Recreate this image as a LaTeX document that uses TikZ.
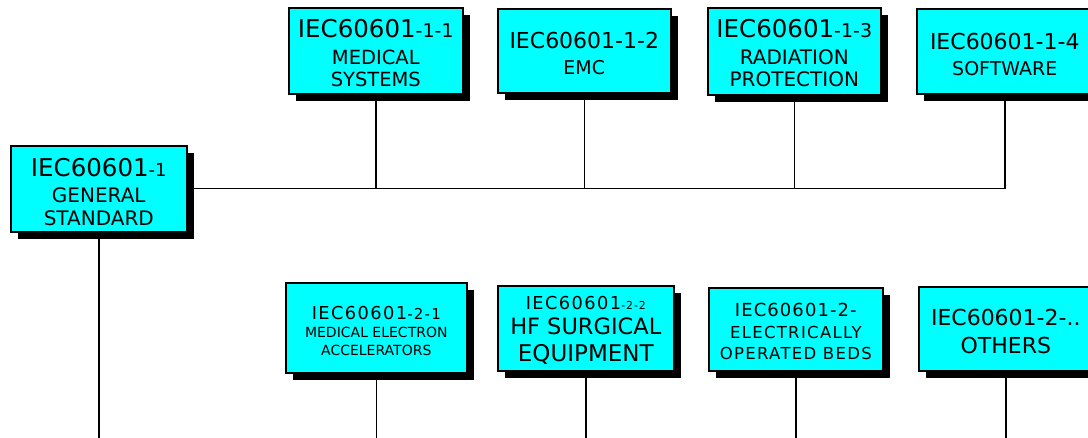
\documentclass[tikz,border=0pt]{standalone}
\usepackage{fontspec}
\setmainfont{DejaVu Sans}
\usetikzlibrary{shadows}

\definecolor{boxcyan}{RGB}{0,255,255}
\newcommand{\fsz}[1]{\fontsize{#1}{#1}\selectfont}
\newcommand{\spaced}[1]{\addfontfeature{LetterSpace=#1}}
\newcommand{\topstrut}[1]{\rule{0pt}{#1pt}}

\begin{document}
\begin{tikzpicture}[
        x=1pt, y=-1pt,
        stdbox/.style={
            draw,
            line width=1.6pt,
            fill=boxcyan,
            anchor=north west,
            align=center,
            inner sep=0pt,
            drop shadow={shadow xshift=7.5pt, shadow yshift=-7.5pt, fill=black, opacity=1}
        },
        link/.style={
            line width=1.4pt
        }
    ]

        \useasboundingbox (0,0) rectangle (1088,438);
        \coordinate (floor) at (0,440);

        % ---------------------------------------------------------------------
        % General standard
        % ---------------------------------------------------------------------

        \node[
            stdbox,
            minimum width=176pt, minimum height=86pt,
            font=\fontsize{20}{23}\selectfont
        ] (gen) at (10,145) {
            {\topstrut{24}\fsz{24.5}IEC60601\fsz{18}-1}\\[3pt]
            {\fsz{20}GENERAL}\\
            {\fsz{20}STANDARD}
        };

        % ---------------------------------------------------------------------
        % Collateral standards (1-x)
        % ---------------------------------------------------------------------

        \node[
            stdbox,
            minimum width=174pt, minimum height=86pt,
            font=\fontsize{19.5}{22}\selectfont
        ] (b11) at (288,7) {
            {\topstrut{22}\fsz{24.5}IEC60601\fsz{19}-1-1}\\[5pt]
            {\fsz{19.5}MEDICAL}\\
            {\fsz{19.5}SYSTEMS}
        };

        \node[
            stdbox,
            minimum width=173pt, minimum height=84pt,
            font=\fontsize{19}{26}\selectfont
        ] (b12) at (497,8) {
            {\topstrut{22}\fsz{22}IEC60601-1-2}\\
            {\fsz{19}EMC}
        };

        \node[
            stdbox,
            minimum width=173pt, minimum height=87pt,
            font=\fontsize{20}{22}\selectfont
        ] (b13) at (707,7) {
            {\topstrut{22}\fsz{24.5}IEC60601\fsz{19}-1-3}\\[5pt]
            {\fsz{20}RADIATION}\\
            {\fsz{20}PROTECTION}
        };

        \node[
            stdbox,
            minimum width=176pt, minimum height=85pt,
            font=\fontsize{19}{26}\selectfont
        ] (b14) at (916,8) {
            {\topstrut{22}\fsz{22}IEC60601-1-4}\\
            {\fsz{19}SOFTWARE}
        };

        % ---------------------------------------------------------------------
        % Particular standards (2-x)
        % ---------------------------------------------------------------------

        \node[
            stdbox,
            minimum width=181pt, minimum height=90pt,
            font=\fontsize{14}{18}\selectfont
        ] (b21) at (285,282) {
            {\topstrut{19}\fsz{17.8}\spaced{8}IEC60601\fsz{15}-2-1}\\
            {\fsz{14}MEDICAL ELECTRON}\\
            {\fsz{14}ACCELERATORS}
        };

        \node[
            stdbox,
            minimum width=176pt, minimum height=85pt,
            font=\fontsize{23}{27}\selectfont
        ] (b22) at (497,285) {
            {\topstrut{17}\fsz{17.8}\spaced{8}IEC60601\fsz{11}-2-2}\\[-2pt]
            {\fsz{22.5}HF SURGICAL}\\
            {\fsz{23}EQUIPMENT}
        };

        \node[
            stdbox,
            minimum width=174pt, minimum height=83pt,
            font=\fontsize{16.5}{21}\selectfont
        ] (b23) at (708,287) {
            {\topstrut{18}\fsz{18}\spaced{6}IEC60601-2-}\\[1pt]
            {\fsz{16.5}\spaced{8}ELECTRICALLY}\\
            {\fsz{16.5}\spaced{8}OPERATED BEDS}
        };

        \node[
            stdbox,
            minimum width=174pt, minimum height=84pt,
            font=\fontsize{22}{28}\selectfont
        ] (b24) at (918,286) {
            {\topstrut{21}\fsz{22}IEC60601-2-..}\\
            {\fsz{22}OTHERS}
        };

        % ---------------------------------------------------------------------
        % Connectors
        % ---------------------------------------------------------------------

        \draw[link] (gen.east) -- (gen.east -| b14.south);
        \foreach \b in {b11, b12, b13, b14} {
            \draw[link] (\b.south) -- (\b.south |- gen.east);
        }

        \draw[link] (gen.south) -- (gen.south |- floor);
        \foreach \b in {b21, b22, b23, b24} {
            \draw[link] (\b.south) -- (\b.south |- floor);
        }

    \end{tikzpicture}
\end{document}
